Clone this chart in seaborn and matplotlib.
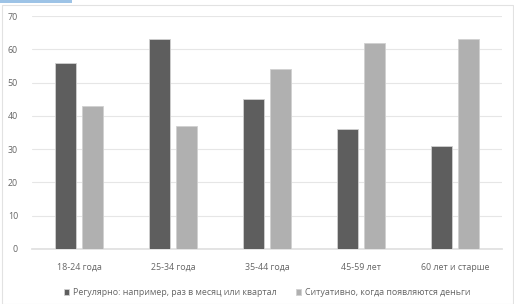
import matplotlib
matplotlib.use("Agg")
import matplotlib.pyplot as plt
import seaborn as sns
import pandas as pd
from matplotlib.patches import Rectangle

categories = ["18-24 года", "25-34 года", "35-44 года", "45-59 лет", "60 лет и старше"]
series_names = ["Регулярно: например, раз в месяц или квартал",
                "Ситуативно, когда появляются деньги"]
regular = [56, 63, 45, 36, 31]
situational = [43, 37, 54, 62, 63]
yticks = [0, 10, 20, 30, 40, 50, 60, 70]

rows = []
for c, v in zip(categories, regular):
    rows.append({"cat": c, "series": series_names[0], "val": v})
for c, v in zip(categories, situational):
    rows.append({"cat": c, "series": series_names[1], "val": v})
df = pd.DataFrame(rows)

sns.set_theme(style="white")
plt.rcParams["font.family"] = ["Open Sans", "DejaVu Sans"]

fig = plt.figure(figsize=(5.14, 3.04), dpi=100)
fig.patch.set_facecolor("white")
ax = fig.add_axes([32/514, 1-249/304, 470/514, 233/304])

palette = {series_names[0]: "#5e5e5e", series_names[1]: "#b0b0b0"}
sns.barplot(data=df, x="cat", y="val", hue="series", palette=palette,
            width=0.574, gap=0.22, ax=ax, edgecolor="#d0d0d0", linewidth=0.6,
            saturation=1, legend=True, zorder=3)

ax.set_ylim(0, 70)
ax.set_yticks(yticks)
ax.set_xlim(-0.5, 4.5)
ax.set_xlabel("")
ax.set_ylabel("")
ax.grid(axis="y", color="#e6e6e6", linewidth=0.8, zorder=0)
for s in ["top", "right", "left"]:
    ax.spines[s].set_visible(False)
ax.spines["bottom"].set_color("#e0e0e0")
ax.tick_params(axis="both", length=0, labelsize=6.4, colors="#666666")
ax.tick_params(axis="x", pad=10)
ax.tick_params(axis="y", pad=10)

leg = ax.legend(loc="upper center", bbox_to_anchor=(0.5, -0.135), ncol=2,
                frameon=False, fontsize=6.4, handlelength=0.6, handleheight=0.6,
                handletextpad=0.4, columnspacing=2.2)
for t in leg.get_texts():
    t.set_color("#666666")

# chart frame and tab
fig.patches.append(Rectangle((2/514, 0), 511/514, 1-4.5/304, transform=fig.transFigure,
                             fill=False, edgecolor="#e2e2e2", linewidth=0.8))
fig.patches.append(Rectangle((0, 1-3/304), 72/514, 3/304, transform=fig.transFigure,
                             facecolor="#9dc3e6", edgecolor="none"))

fig.savefig("out.png", dpi=100)
